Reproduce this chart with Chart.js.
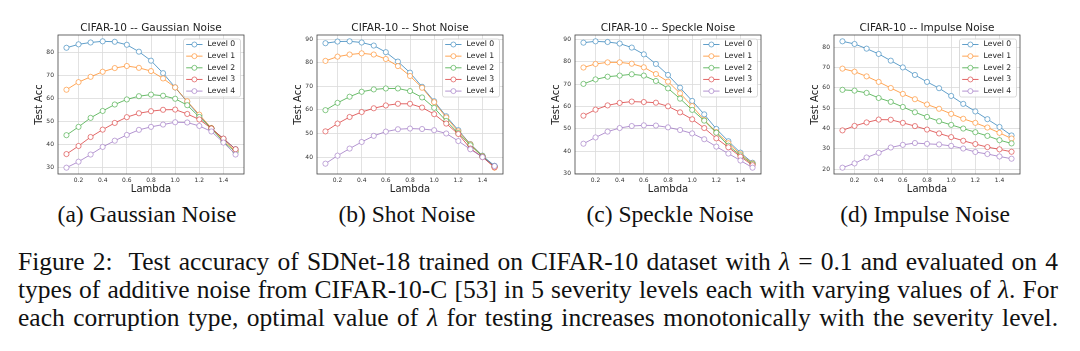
<!DOCTYPE html>
<html>
<head>
<meta charset="utf-8">
<script src="https://cdn.jsdelivr.net/npm/chart.js@4.4.1/dist/chart.umd.min.js"></script>
<style>
  body { margin: 0; background: #fff; width: 1080px; height: 351px; overflow: hidden; position: relative; font-family: "Liberation Serif", "Times New Roman", serif; color: #111; }
  .plot { position: absolute; top: 10px; }
  .sub { position: absolute; top: 203px; font-size: 23.5px; line-height: 23px; white-space: nowrap; transform: translateX(-50%); }
  .cap { position: absolute; left: 18px; top: 248px; width: 1040px; font-size: 25.5px; line-height: 27.8px; }
  .cap div { white-space: nowrap; }
</style>
</head>
<body>
<canvas id="c0" class="plot" width="226" height="190" style="left:28px"></canvas>
<canvas id="c1" class="plot" width="226" height="190" style="left:287px"></canvas>
<canvas id="c2" class="plot" width="226" height="190" style="left:545px"></canvas>
<canvas id="c3" class="plot" width="226" height="190" style="left:804px"></canvas>

<div class="sub" style="left:147px">(a) Gaussian Noise</div>
<div class="sub" style="left:407px">(b) Shot Noise</div>
<div class="sub" style="left:670px">(c) Speckle Noise</div>
<div class="sub" style="left:925px">(d) Impulse Noise</div>

<div class="cap">
  <div><span>Figure 2:&nbsp; Test accuracy of SDNet-18 trained on CIFAR-10 dataset with <i>λ</i> = 0.1 and evaluated on 4</span></div>
  <div><span>types of additive noise from CIFAR-10-C [53] in 5 severity levels each with varying values of <i>λ</i>. For</span></div>
  <div><span>each corruption type, optimal value of <i>λ</i> for testing increases monotonically with the severity level.</span></div>
</div>

<script>
// x values and legend labels
const lambdas = [0.1, 0.2, 0.3, 0.4, 0.5, 0.6, 0.7, 0.8, 0.9, 1.0, 1.1, 1.2, 1.3, 1.4, 1.5];
const levels = ["Level 0", "Level 1", "Level 2", "Level 3", "Level 4"];
const titles = ["CIFAR-10 -- Gaussian Noise", "CIFAR-10 -- Shot Noise", "CIFAR-10 -- Speckle Noise", "CIFAR-10 -- Impulse Noise"];

// test accuracy, one row per severity level
const gaussianAcc = [
  [82.0, 83.5, 84.3, 84.8, 84.6, 83.3, 80.3, 76.4, 71.0, 64.8, 58.5, 52.6, 47.0, 42.5, 38.0],
  [63.8, 67.1, 69.4, 71.6, 73.2, 74.1, 73.3, 71.9, 68.7, 64.8, 58.8, 53.0, 47.2, 41.9, 37.2],
  [44.1, 47.7, 51.6, 54.6, 57.4, 59.6, 61.0, 61.7, 61.2, 59.9, 57.1, 52.0, 47.0, 41.2, 36.8],
  [35.9, 39.4, 43.3, 46.5, 49.4, 51.9, 53.6, 54.5, 55.1, 55.2, 53.3, 50.9, 47.0, 42.6, 38.0],
  [30.0, 32.6, 35.7, 39.0, 41.7, 44.2, 46.4, 47.7, 48.7, 49.7, 49.6, 48.1, 45.7, 40.9, 35.7],
];
const shotAcc = [
  [88.3, 89.0, 89.1, 88.6, 87.3, 84.5, 80.5, 75.8, 69.8, 63.7, 57.3, 51.4, 45.5, 40.6, 36.3],
  [80.8, 82.6, 83.5, 84.0, 83.5, 81.6, 78.6, 74.4, 69.4, 63.3, 56.8, 50.9, 45.4, 40.4, 35.5],
  [59.9, 63.0, 65.6, 67.7, 68.7, 69.1, 69.1, 68.0, 65.3, 60.9, 55.3, 50.2, 45.0, 40.3, 36.0],
  [50.9, 54.2, 57.0, 59.1, 60.7, 61.9, 62.6, 62.6, 61.0, 58.2, 54.2, 49.8, 43.6, 40.0, 35.7],
  [37.2, 40.6, 43.6, 46.4, 49.0, 50.8, 51.8, 52.1, 51.9, 51.4, 50.0, 46.8, 43.3, 40.0, 36.2],
];
const speckleAcc = [
  [88.5, 89.1, 88.8, 88.1, 86.3, 83.3, 79.0, 74.1, 68.4, 62.5, 56.5, 50.0, 44.5, 39.4, 34.9],
  [77.4, 79.0, 79.7, 79.7, 79.1, 77.5, 74.5, 71.1, 65.9, 60.2, 54.0, 48.6, 43.6, 38.8, 34.6],
  [70.1, 72.1, 73.3, 73.8, 74.4, 73.8, 71.4, 68.1, 63.5, 58.5, 53.7, 48.3, 42.5, 38.2, 34.3],
  [55.9, 58.6, 60.5, 61.6, 62.2, 62.0, 61.7, 60.1, 57.4, 54.3, 50.4, 45.8, 41.8, 37.6, 33.8],
  [43.4, 46.2, 48.8, 50.4, 51.3, 51.6, 51.5, 50.7, 49.5, 48.0, 45.4, 42.1, 39.0, 35.9, 32.7],
];
const impulseAcc = [
  [82.8, 81.5, 79.2, 76.6, 73.3, 70.0, 66.3, 62.9, 59.8, 56.0, 52.1, 48.4, 44.6, 40.8, 36.6],
  [69.4, 67.9, 65.6, 62.9, 59.9, 57.0, 54.4, 51.8, 49.7, 47.2, 44.8, 42.8, 40.5, 37.9, 35.1],
  [59.0, 58.6, 57.5, 55.0, 53.1, 50.6, 48.0, 45.7, 43.6, 41.8, 40.0, 38.2, 36.4, 34.3, 32.7],
  [39.1, 41.3, 43.0, 44.4, 44.3, 42.8, 41.2, 39.5, 37.6, 35.8, 34.0, 32.4, 30.9, 29.8, 28.6],
  [20.8, 22.9, 25.8, 28.1, 30.7, 32.0, 32.9, 32.5, 32.2, 31.5, 30.2, 28.5, 27.5, 26.3, 25.2],
];

const colors = ["#1f77b4", "#ff7f0e", "#2ca02c", "#d62728", "#9467bd"];

// stretch each caption line to the full text width, like LaTeX justification
document.querySelectorAll(".cap span").forEach((s) => {
  const gaps = (s.textContent.match(/[ \u00a0]/g) || []).length;
  const extra = 1040 - s.getBoundingClientRect().width;
  if (gaps > 0) s.style.wordSpacing = (extra / gaps) + "px";
});

Chart.defaults.font.family = "'DejaVu Sans', sans-serif";
Chart.defaults.color = "#333";

// title over the plot, box round the plot and a matplotlib-style legend
const frameLegend = {
  id: "frameLegend",
  afterDatasetsDraw(chart) {
    const ctx = chart.ctx;
    const a = chart.chartArea;
    ctx.save();
    ctx.strokeStyle = "#444";
    ctx.lineWidth = 0.8;
    ctx.strokeRect(a.left, a.top, a.right - a.left, a.bottom - a.top);

    ctx.fillStyle = "#222";
    ctx.font = "10.5px 'DejaVu Sans'";
    ctx.textAlign = "center";
    ctx.textBaseline = "middle";
    ctx.fillText(chart.options.panelTitle, (a.left + a.right) / 2, a.top - 7);

    const w = 57, h = 58;
    const x = a.right - 3.5 - w, y = a.top + 4;
    ctx.fillStyle = "rgba(255,255,255,0.85)";
    ctx.strokeStyle = "#d0d0d0";
    ctx.beginPath();
    ctx.roundRect(x, y, w, h, 2);
    ctx.fill();
    ctx.stroke();

    ctx.font = "7.7px 'DejaVu Sans'";
    ctx.textAlign = "left";
    chart.data.datasets.forEach((ds, i) => {
      const cy = y + 5.5 + i * 11.65;
      ctx.strokeStyle = ds.borderColor;
      ctx.lineWidth = 1;
      ctx.beginPath();
      ctx.moveTo(x + 2.7, cy);
      ctx.lineTo(x + 19, cy);
      ctx.stroke();
      ctx.fillStyle = "#fff";
      ctx.lineWidth = 0.8;
      ctx.beginPath();
      ctx.arc(x + 10.9, cy, 2.5, 0, Math.PI * 2);
      ctx.fill();
      ctx.stroke();
      ctx.fillStyle = "#222";
      ctx.fillText(ds.label, x + 24, cy);
    });
    ctx.restore();
  },
};

function drawPanel(id, title, acc) {
  const all = acc.flat();
  const lo = Math.min(...all), hi = Math.max(...all);
  const yPad = (hi - lo) * 0.05;
  const xPad = (lambdas[lambdas.length - 1] - lambdas[0]) * 0.05;

  new Chart(document.getElementById(id), {
    type: "line",
    data: {
      datasets: levels.map((name, i) => ({
        label: name,
        data: lambdas.map((x, j) => ({ x: x, y: acc[i][j] })),
        borderColor: colors[i] + "b4",
        borderWidth: 1,
        pointRadius: 2.6,
        pointBorderWidth: 0.8,
        pointBackgroundColor: "#fff",
        pointBorderColor: colors[i] + "b4",
        tension: 0,
        order: levels.length - 1 - i,
      })),
    },
    options: {
      panelTitle: title,
      responsive: false,
      animation: false,
      layout: { padding: { left: 0, right: 10, top: 25, bottom: 0 } },
      plugins: {
        legend: { display: false },
        tooltip: { enabled: false },
        title: { display: false },
      },
      scales: {
        x: {
          type: "linear",
          min: lambdas[0] - xPad,
          max: lambdas[lambdas.length - 1] + xPad,
          afterFit: (s) => { s.height = 26; },
          border: { display: false },
          grid: { color: "#dadada", lineWidth: 0.8, drawTicks: false },
          ticks: {
            stepSize: 0.2,
            includeBounds: false,
            padding: 3,
            maxRotation: 0,
            font: { size: 6 },
            callback: (v) => v.toFixed(1),
          },
          title: { display: true, text: "Lambda", color: "#222", font: { size: 10 }, padding: { top: 0, bottom: 5 } },
        },
        y: {
          min: lo - yPad,
          max: hi + yPad,
          afterFit: (s) => { s.width = 30; },
          border: { display: false },
          grid: { color: "#dadada", lineWidth: 0.8, drawTicks: false },
          ticks: { stepSize: 10, includeBounds: false, padding: 4, font: { size: 6 } },
          title: { display: true, text: "Test Acc", color: "#222", font: { size: 10 }, padding: { top: 5, bottom: 0 } },
        },
      },
    },
    plugins: [frameLegend],
  });
}

drawPanel("c0", titles[0], gaussianAcc);
drawPanel("c1", titles[1], shotAcc);
drawPanel("c2", titles[2], speckleAcc);
drawPanel("c3", titles[3], impulseAcc);
</script>
</body>
</html>
